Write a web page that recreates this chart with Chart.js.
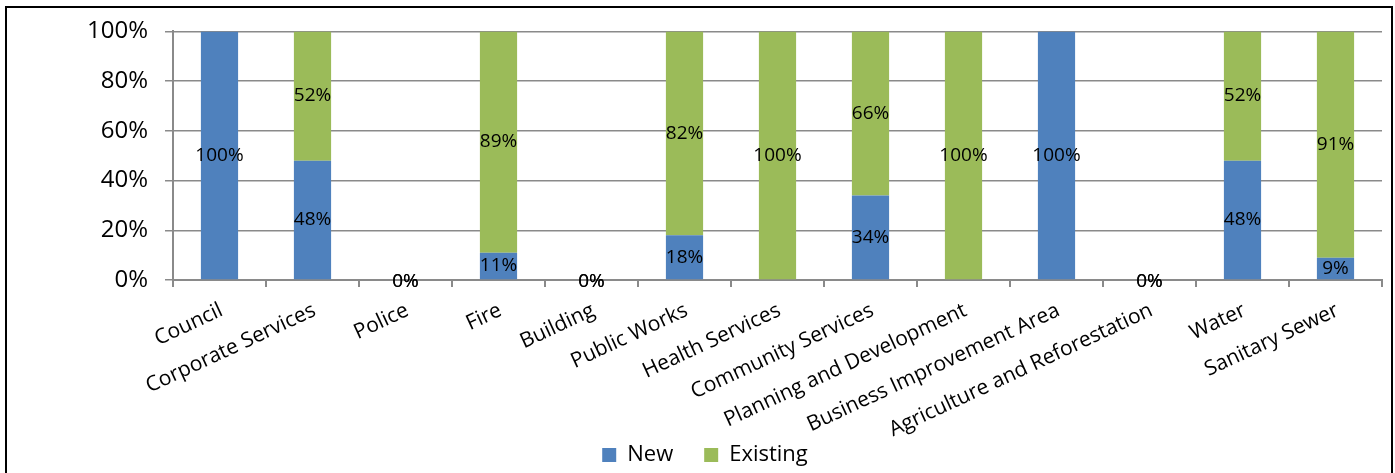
<!DOCTYPE html>
<html>
<head>
<meta charset="utf-8">
<script src="https://cdn.jsdelivr.net/npm/chart.js@4/dist/chart.umd.min.js"></script>
<style>
  html, body { margin: 0; padding: 0; background: #fff; }
  #wrap { position: relative; width: 1395px; height: 473px; overflow: hidden; }
  #frame { position: absolute; left: 5px; top: 6px; width: 1384px; height: 480px; border: 2px solid #000; pointer-events: none; }
  canvas { display: block; }
</style>
</head>
<body>
<div id="wrap">
  <canvas id="c" width="1395" height="473"></canvas>
  <div id="frame"></div>
</div>
<script>
// Departments and the split of each between new and existing (percent)
const categories = [
  'Council', 'Corporate Services', 'Police', 'Fire', 'Building', 'Public Works',
  'Health Services', 'Community Services', 'Planning and Development',
  'Business Improvement Area', 'Agriculture and Reforestation', 'Water', 'Sanitary Sewer'
];
const newShare      = [100, 48, 0, 11, 0, 18, null, 34, null, 100, 0, 48, 9];
const existingShare = [null, 52, 0, 89, 0, 82, 100, 66, 100, null, 0, 52, 91];
const yTicks = [0, 20, 40, 60, 80, 100];

const FONT = "'Open Sans', 'Noto Sans', sans-serif";
const GRID = '#8a8a8a';

// Writes each segment's percentage in the middle of its bar segment
const segmentLabels = {
  id: 'segmentLabels',
  afterDatasetsDraw(chart) {
    const ctx = chart.ctx;
    ctx.save();
    ctx.font = '19px ' + FONT;
    ctx.fillStyle = '#000';
    ctx.textAlign = 'center';
    ctx.textBaseline = 'middle';
    chart.data.datasets.forEach((ds, di) => {
      const meta = chart.getDatasetMeta(di);
      meta.data.forEach((bar, i) => {
        const v = ds.data[i];
        if (v === null || v === undefined) return;
        const y = (bar.y + bar.base) / 2 + (v === 0 ? 2 : 0);
        ctx.fillText(v + '%', bar.x, y);
      });
    });
    ctx.restore();
  }
};

// Places the legend row low in the frame, under the slanted category names
const legendPlacement = {
  id: 'legendPlacement',
  afterLayout(chart) {
    const lg = chart.legend;
    if (!lg) return;
    lg.top = 413;
    lg.left += 14;
    lg.right += 14;
  }
};

new Chart(document.getElementById('c'), {
  type: 'bar',
  data: {
    labels: categories,
    datasets: [
      { label: 'New', data: newShare, backgroundColor: '#4F81BD' },
      { label: 'Existing', data: existingShare, backgroundColor: '#9BBB59' }
    ]
  },
  options: {
    responsive: false,
    animation: false,
    devicePixelRatio: 1,
    layout: { padding: { top: 31, right: 13, left: 0, bottom: 0 } },
    datasets: { bar: { categoryPercentage: 1, barPercentage: 0.4 } },
    scales: {
      x: {
        stacked: true,
        afterFit(scale) { scale.height = 165; },
        grid: { display: true, offset: true, drawOnChartArea: false, drawTicks: true, tickLength: 7, color: GRID, lineWidth: 2 },
        border: { display: true, color: GRID, width: 2 },
        ticks: {
          autoSkip: false, minRotation: 25, maxRotation: 25, padding: 11, labelOffset: 2,
          color: '#000', font: { family: FONT, size: 21 }
        }
      },
      y: {
        stacked: true,
        min: 0, max: 100,
        afterFit(scale) { scale.width = 173; },
        afterBuildTicks(scale) { scale.ticks = yTicks.map(v => ({ value: v })); },
        grid: { color: GRID, lineWidth: 1.5, drawTicks: true, tickLength: 8 },
        border: { display: true, color: GRID, width: 2 },
        ticks: {
          padding: 17, color: '#000', font: { family: FONT, size: 24 },
          callback: v => v + '%'
        }
      }
    },
    plugins: {
      legend: {
        position: 'bottom',
        maxHeight: 28,
        labels: { boxWidth: 14, boxHeight: 14, padding: 31, color: '#000', font: { family: FONT, size: 22 } }
      },
      tooltip: { enabled: false }
    }
  },
  plugins: [segmentLabels, legendPlacement]
});
</script>
</body>
</html>
